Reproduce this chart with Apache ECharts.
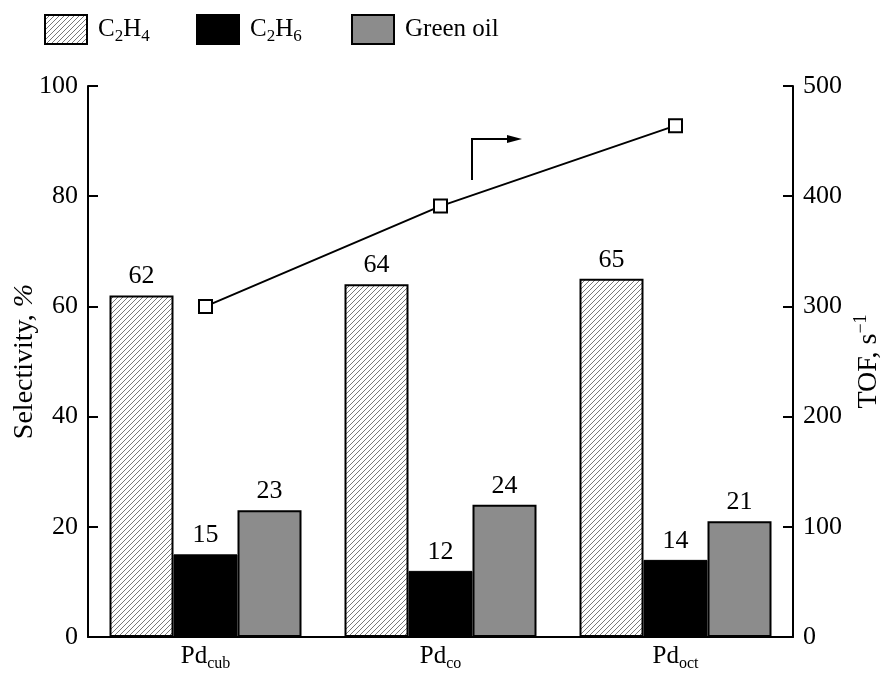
<!DOCTYPE html>
<html>
<head>
<meta charset="utf-8">
<script src="https://cdn.jsdelivr.net/npm/echarts@6/dist/echarts.min.js"></script>
<style>html,body{margin:0;padding:0;background:#fff;}#c{width:889px;height:677px;}</style>
</head>
<body>
<div id="c"></div>
<script>
// ---- data ----
var categories = ['Pd_cub', 'Pd_co', 'Pd_oct'];
var c2h4 = [62, 64, 65];
var c2h6 = [15, 12, 14];
var greenOil = [23, 24, 21];
var tof = [300, 391, 464];
var leftTicks = {min: 0, max: 100, interval: 20};
var rightTicks = {min: 0, max: 500, interval: 100};

var FONT = '"Liberation Serif", "DejaVu Serif", serif';
var FS = 26;

// hatch pattern
var pc = document.createElement('canvas');
pc.width = 5; pc.height = 5;
var px = pc.getContext('2d');
px.fillStyle = '#fff'; px.fillRect(0, 0, 5, 5);
px.strokeStyle = '#555'; px.lineWidth = 0.8;
px.beginPath();
px.moveTo(-1, 6); px.lineTo(6, -1);
px.moveTo(-1, 1); px.lineTo(1, -1);
px.moveTo(4, 6); px.lineTo(6, 4);
px.stroke();
var hatch = {image: pc, repeat: 'repeat'};

var rich = {
  m: {fontSize: 25, fontFamily: FONT, color: '#000', lineHeight: 32, verticalAlign: 'middle'},
  s: {fontSize: 17, fontFamily: FONT, color: '#000', lineHeight: 16, verticalAlign: 'bottom'},
  xs: {fontSize: 16, fontFamily: FONT, color: '#000', lineHeight: 16, verticalAlign: 'bottom'},
  n: {fontSize: 28, fontFamily: FONT, color: '#000', lineHeight: 34, verticalAlign: 'middle'},
  ni: {fontSize: 28, fontFamily: FONT, fontStyle: 'italic', color: '#000', lineHeight: 34, verticalAlign: 'middle'},
  p: {fontSize: 18, fontFamily: FONT, color: '#000', lineHeight: 16, verticalAlign: 'top'}
};

function chem(name) {
  if (name === 'C2H4') return '{m|C}{s|2}{m|H}{s|4}';
  if (name === 'C2H6') return '{m|C}{s|2}{m|H}{s|6}';
  return '{m|' + name + '}';
}

function legendAt(name, left) {
  return {
    data: [name], left: left, top: 9, itemWidth: 42, itemHeight: 29, itemGap: 0,
    icon: 'rect', selectedMode: false,
    formatter: chem,
    textStyle: {rich: rich, padding: [0, 0, 0, 6]}
  };
}

var barLabel = {show: true, position: 'top', distance: 6, fontSize: FS, fontFamily: FONT, color: '#000'};

var chart = echarts.init(document.getElementById('c'), null, {renderer: 'canvas'});
chart.setOption({
  animation: false,
  backgroundColor: '#fff',
  legend: [legendAt('C2H4', 39), legendAt('C2H6', 191), legendAt('Green oil', 346)],
  grid: {left: 88, right: 96, top: 86, bottom: 40, containLabel: false, outerBoundsMode: 'none'},
  xAxis: {
    type: 'category', data: categories,
    axisLine: {lineStyle: {color: '#000', width: 2}},
    axisTick: {show: false},
    axisLabel: {
      margin: 3,
      formatter: function (v) { var p = v.split('_'); return '{m|' + p[0] + '}{xs|' + p[1] + '}'; },
      rich: rich
    }
  },
  yAxis: [
    {
      type: 'value', min: leftTicks.min, max: leftTicks.max, interval: leftTicks.interval,
      name: '{n|Selectivity, }{ni|%}', nameLocation: 'middle', nameGap: 46, nameRotate: 90,
      nameMoveOverlap: false,
      nameTextStyle: {rich: rich},
      axisLine: {show: true, lineStyle: {color: '#000', width: 2}},
      axisTick: {show: true, inside: true, length: 10, lineStyle: {color: '#000', width: 2}},
      axisLabel: {fontSize: FS, fontFamily: FONT, color: '#000', margin: 10},
      splitLine: {show: false}
    },
    {
      type: 'value', min: rightTicks.min, max: rightTicks.max, interval: rightTicks.interval,
      position: 'right',
      name: '{n|TOF, s}{p|\u22121}', nameLocation: 'middle', nameGap: 59, nameRotate: 90,
      nameMoveOverlap: false,
      nameTextStyle: {rich: rich},
      axisLine: {show: true, lineStyle: {color: '#000', width: 2}},
      axisTick: {show: true, inside: true, length: 10, lineStyle: {color: '#000', width: 2}},
      axisLabel: {fontSize: FS, fontFamily: FONT, color: '#000', margin: 10},
      splitLine: {show: false}
    }
  ],
  series: [
    {name: 'C2H4', type: 'bar', data: c2h4, barWidth: 64, barGap: '0%',
     itemStyle: {color: hatch, borderColor: '#000', borderWidth: 2}, label: barLabel},
    {name: 'C2H6', type: 'bar', data: c2h6, barWidth: 64, barGap: '0%',
     itemStyle: {color: '#000', borderColor: '#000', borderWidth: 1}, label: barLabel},
    {name: 'Green oil', type: 'bar', data: greenOil, barWidth: 64, barGap: '0%',
     itemStyle: {color: '#8c8c8c', borderColor: '#000', borderWidth: 2}, label: barLabel},
    {name: 'TOF', type: 'line', yAxisIndex: 1, data: tof,
     symbol: 'rect', symbolSize: 13, showSymbol: true,
     lineStyle: {color: '#000', width: 2},
     itemStyle: {color: '#fff', borderColor: '#000', borderWidth: 2}, z: 5}
  ],
  graphic: [
    {type: 'polyline', shape: {points: [[472, 180], [472, 139], [512, 139]]},
     style: {stroke: '#000', lineWidth: 2, fill: null}},
    {type: 'polygon', shape: {points: [[522, 139], [507, 135], [507, 143]]},
     style: {fill: '#000'}}
  ]
});
</script>
</body>
</html>
